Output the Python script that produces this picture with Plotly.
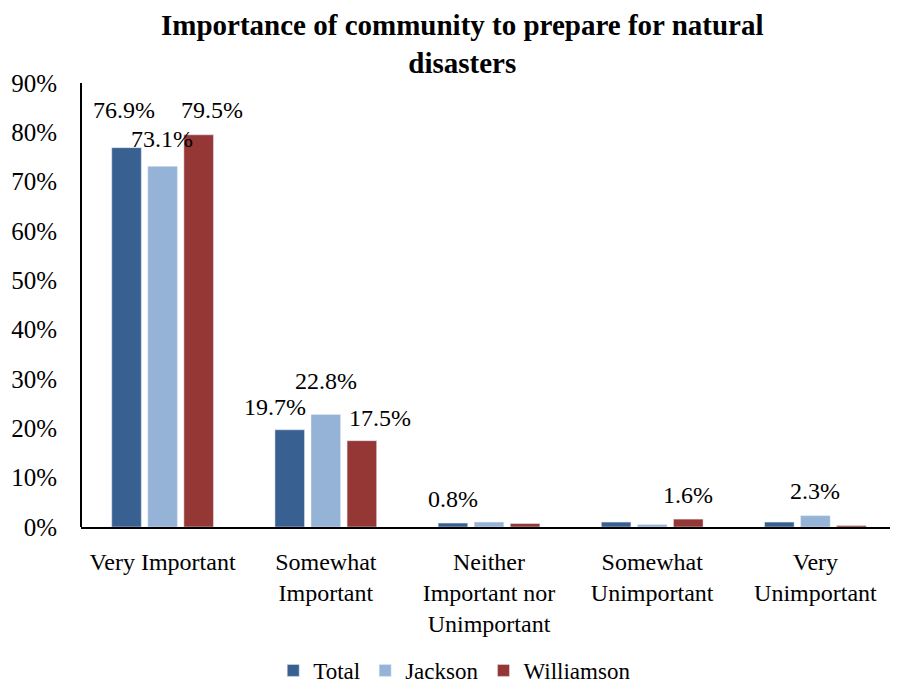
import plotly.graph_objects as go

categories = ["Very Important", "Somewhat<br>Important", "Neither<br>Important nor<br>Unimportant",
              "Somewhat<br>Unimportant", "Very<br>Unimportant"]
series_names = ["Total", "Jackson", "Williamson"]
total = [76.9, 19.7, 0.8, 1.0, 1.0]
jackson = [73.1, 22.8, 1.0, 0.5, 2.3]
williamson = [79.5, 17.5, 0.7, 1.6, 0.3]
# which data labels are shown in the reference (True = shown)
total_show = [True, True, True, False, False]
jackson_show = [True, True, False, False, True]
williamson_show = [True, True, False, True, False]
yticks = [0, 10, 20, 30, 40, 50, 60, 70, 80, 90]
yticktext = [f"{v}%" for v in yticks]
title_text = "Importance of community to prepare for natural<br>disasters"

# label placement tweaks (pixels): (dx, dy above bar top) per series / category
total_nudge = [(-3, 38), (-15, 23), (0, 24), (0, 24), (0, 24)]
jackson_nudge = [(-1, 27), (0, 34), (0, 24), (0, 24), (0, 25)]
williamson_nudge = [(13, 25), (18, 23), (0, 24), (0, 24), (0, 24)]

FONT = "Liberation Serif, serif"
colors = {"Total": "#386091", "Jackson": "#95B3D7", "Williamson": "#953735"}

W, H = 898, 686
ML, MR, MT, MB = 73, 9, 75, 167
BARGAP, GROUPGAP = 0.337, 0.18
plot_w = W - ML - MR
plot_h = H - MT - MB
slot = plot_w / len(categories) * (1 - BARGAP) / 3
bar_dx = [-slot, 0, slot]

fig = go.Figure()
data = [total, jackson, williamson]
shows = [total_show, jackson_show, williamson_show]
nudges = [total_nudge, jackson_nudge, williamson_nudge]
for name, vals in zip(series_names, data):
    fig.add_trace(go.Bar(x=categories, y=vals, name=name, marker_color=colors[name]))

for si, (vals, show, nudge) in enumerate(zip(data, shows, nudges)):
    for ci, cat in enumerate(categories):
        if not show[ci]:
            continue
        dx, dy = nudge[ci]
        fig.add_annotation(x=cat, y=vals[ci], xref="x", yref="y", text=f"{vals[ci]:.1f}%",
                           showarrow=False, xanchor="center", yanchor="middle",
                           xshift=bar_dx[si] + dx, yshift=dy,
                           font=dict(family=FONT, size=24, color="black"))

# two-line bold title, centred ~36 px from the figure top
fig.add_annotation(text=f"<b>{title_text}</b>", xref="paper", yref="paper",
                   x=(454 - ML) / plot_w, y=(H - MB - 36) / plot_h,
                   xanchor="center", yanchor="middle", showarrow=False,
                   font=dict(family=FONT, size=29, color="black"))

fig.update_layout(
    width=W, height=H,
    paper_bgcolor="white", plot_bgcolor="white",
    margin=dict(l=ML, r=MR, t=MT, b=MB),
    barmode="group", bargap=BARGAP, bargroupgap=GROUPGAP,
    font=dict(family=FONT, size=24, color="black"),
    legend=dict(orientation="h", x=0.458, xanchor="center", yref="container",
                y=0.003, yanchor="bottom",
                font=dict(family=FONT, size=23), itemwidth=30, traceorder="normal"),
)
fig.update_yaxes(range=[0, 90], tickvals=yticks, ticktext=yticktext, showgrid=False,
                 showline=False, ticks="", zeroline=False, automargin=False,
                 tickfont=dict(family=FONT, size=25), ticklabelstandoff=23)
fig.update_xaxes(showline=True, linecolor="black", linewidth=2, ticks="", showgrid=False,
                 tickfont=dict(family=FONT, size=24), tickangle=0, automargin=False,
                 ticklabelstandoff=12)
fig.add_shape(type="line", xref="paper", yref="paper", x0=0, x1=0, y0=0, y1=1,
              line=dict(color="black", width=2))

fig.write_html("out.html")
